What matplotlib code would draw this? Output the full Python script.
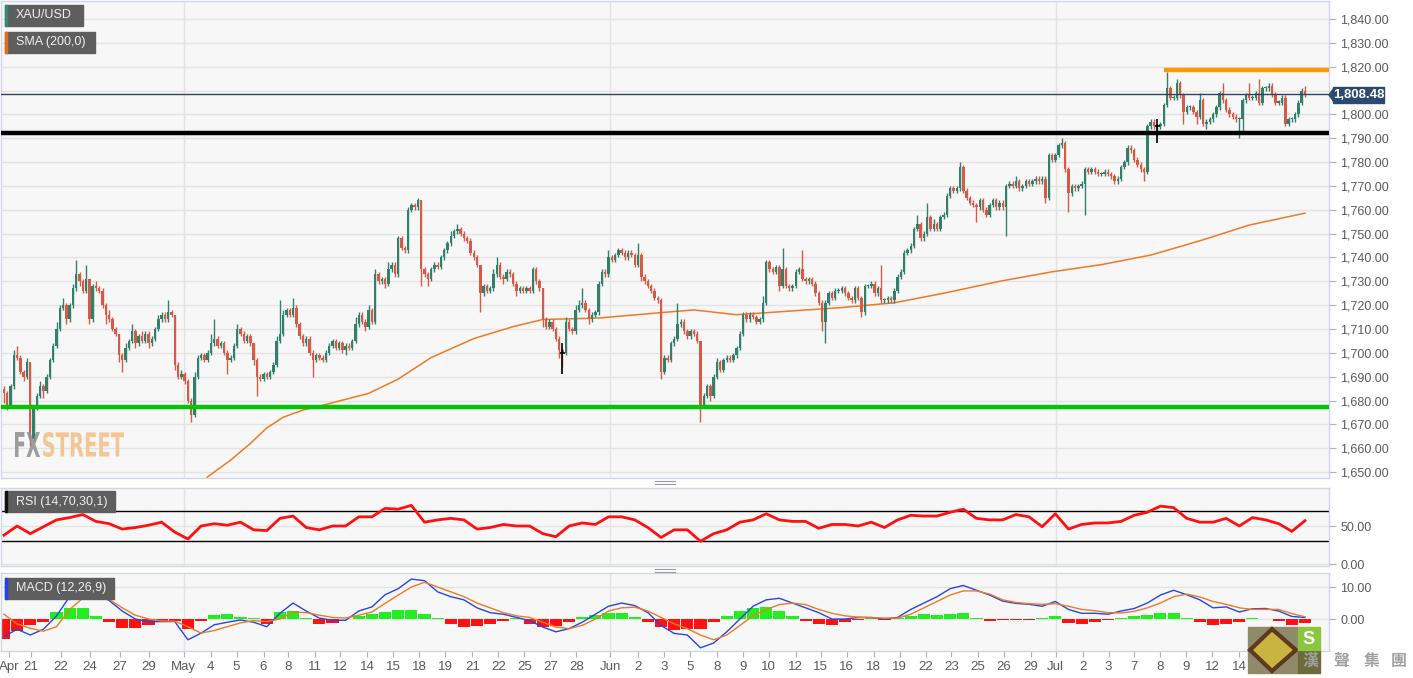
import numpy as np
import matplotlib
matplotlib.use("Agg")
import matplotlib.pyplot as plt
from matplotlib.patches import Rectangle, Polygon, PathPatch
from matplotlib.textpath import TextPath
from matplotlib.font_manager import FontProperties
from matplotlib.transforms import Affine2D, IdentityTransform

plt.rcParams["font.family"] = ["Liberation Sans", "DejaVu Sans"]

# ---- price data (4h candles) ----
first_open = 1685
closes = [
    1683, 1678, 1686, 1699, 1698, 1692, 1690, 1696, 1664, 1677, 1682, 1686, 1684, 1690, 1697, 1703, 1710, 1719, 1720, 1714,
    1720, 1727, 1733, 1730, 1726, 1731, 1714, 1728, 1727, 1726, 1720, 1716, 1714, 1710, 1708, 1699, 1697, 1702, 1705, 1709,
    1704, 1707, 1705, 1708, 1704, 1706, 1710, 1714, 1716, 1714, 1717, 1716, 1695, 1690, 1691, 1688, 1680, 1674, 1690, 1698,
    1699, 1697, 1700, 1704, 1706, 1703, 1704, 1700, 1697, 1698, 1703, 1710, 1708, 1705, 1707, 1704, 1697, 1690, 1689, 1691,
    1690, 1692, 1695, 1705, 1708, 1716, 1718, 1716, 1719, 1712, 1707, 1704, 1706, 1700, 1697, 1699, 1698, 1697, 1700, 1703,
    1705, 1702, 1704, 1701, 1703, 1702, 1705, 1712, 1716, 1713, 1711, 1718, 1713, 1733, 1730, 1731, 1729, 1735, 1737, 1733,
    1748, 1744, 1743, 1760, 1762, 1761, 1764, 1735, 1733, 1731, 1735, 1737, 1736, 1740, 1743, 1746, 1749, 1751, 1752, 1750,
    1748, 1747, 1742, 1740, 1737, 1725, 1728, 1726, 1727, 1733, 1737, 1732, 1731, 1734, 1733, 1729, 1726, 1727, 1726, 1727,
    1726, 1735, 1730, 1727, 1714, 1711, 1713, 1710, 1706, 1701, 1700, 1713, 1710, 1709, 1718, 1720, 1721, 1718, 1714, 1716,
    1717, 1729, 1734, 1733, 1740, 1739, 1741, 1743, 1742, 1740, 1742, 1741, 1737, 1741, 1732, 1730, 1728, 1726, 1723, 1722,
    1692, 1698, 1697, 1704, 1706, 1712, 1713, 1709, 1707, 1709, 1708, 1705, 1678, 1682, 1686, 1682, 1690, 1696, 1693, 1697,
    1698, 1697, 1699, 1702, 1708, 1716, 1714, 1716, 1715, 1713, 1714, 1721, 1738, 1735, 1734, 1736, 1728, 1735, 1728, 1727,
    1728, 1734, 1735, 1731, 1730, 1731, 1729, 1725, 1721, 1713, 1721, 1725, 1723, 1726, 1726, 1727, 1725, 1723, 1722, 1727,
    1723, 1717, 1728, 1728, 1729, 1725, 1727, 1722, 1722, 1723, 1722, 1726, 1732, 1734, 1742, 1743, 1745, 1752, 1754, 1748,
    1750, 1757, 1752, 1754, 1752, 1757, 1758, 1766, 1769, 1768, 1769, 1778, 1768, 1765, 1763, 1762, 1761, 1764, 1760, 1758,
    1762, 1764, 1761, 1763, 1761, 1770, 1771, 1770, 1772, 1769, 1770, 1772, 1771, 1772, 1773, 1772, 1773, 1765, 1783, 1781,
    1783, 1787, 1788, 1777, 1767, 1770, 1769, 1770, 1771, 1777, 1776, 1777, 1776, 1775, 1775, 1776, 1775, 1774, 1772, 1773,
    1778, 1780, 1786, 1785, 1781, 1779, 1777, 1776, 1795, 1797, 1795, 1795, 1796, 1804, 1811, 1807, 1807, 1813, 1808, 1801,
    1803, 1803, 1801, 1799, 1806, 1796, 1797, 1798, 1800, 1803, 1809, 1806, 1802, 1800, 1799, 1798, 1798, 1806, 1808, 1807,
    1807, 1809, 1805, 1811, 1811, 1812, 1808.5, 1805, 1805, 1807, 1796, 1798, 1798, 1800, 1805, 1810, 1808.5,
]
up_wick = [
    1, 1, 1, 2, 4, 1, 1, 2, 0, 1, 1, 2, 1, 1, 1, 1, 3, 1, 3, 1,
    1, 2, 6, 1, 1, 6, 0, 1, 2, 1, 1, 1, 2, 1, 1, 0, 1, 2, 1, 3,
    1, 1, 2, 1, 1, 1, 1, 2, 1, 1, 5, 1, 0, 1, 2, 1, 1, 1, 2, 1,
    1, 1, 1, 4, 8, 1, 1, 1, 1, 1, 1, 2, 1, 1, 1, 1, 0, 1, 1, 1,
    1, 1, 1, 2, 14, 2, 1, 1, 4, 1, 1, 1, 1, 1, 1, 1, 1, 1, 1, 1,
    1, 1, 1, 1, 1, 1, 1, 3, 1, 1, 1, 2, 1, 2, 1, 1, 1, 3, 1, 1,
    1, 1, 1, 1, 1, 1, 1, 0, 1, 1, 1, 1, 1, 1, 1, 1, 2, 1, 2, 1,
    1, 1, 1, 1, 1, 0, 1, 1, 1, 2, 3, 1, 1, 1, 1, 1, 1, 1, 1, 1,
    1, 1, 1, 1, 0, 1, 1, 1, 1, 1, 1, 2, 1, 1, 2, 2, 6, 1, 1, 1,
    1, 1, 1, 1, 3, 1, 1, 1, 1, 1, 1, 1, 1, 5, 1, 1, 1, 1, 1, 1,
    1, 1, 1, 1, 1, 9, 1, 1, 1, 1, 1, 1, 0, 1, 1, 1, 1, 2, 1, 1,
    1, 1, 1, 1, 1, 1, 1, 1, 1, 1, 1, 3, 1, 1, 1, 1, 1, 9, 1, 1,
    1, 1, 1, 8, 1, 1, 1, 1, 1, 1, 1, 1, 1, 1, 1, 1, 1, 1, 1, 1,
    1, 1, 1, 1, 1, 1, 1, 10, 1, 1, 1, 1, 1, 1, 1, 1, 1, 1, 4, 1,
    1, 6, 1, 2, 1, 1, 1, 1, 1, 1, 1, 2, 1, 1, 1, 1, 1, 1, 1, 1,
    1, 1, 1, 1, 1, 1, 1, 1, 2, 1, 1, 1, 1, 1, 1, 1, 1, 1, 1, 1,
    1, 1, 2, 1, 1, 1, 1, 1, 1, 1, 1, 1, 1, 1, 1, 1, 1, 1, 1, 1,
    1, 1, 1, 1, 1, 1, 1, 1, 1, 1, 1, 1, 1, 1, 7, 1, 1, 2, 1, 1,
    1, 1, 1, 1, 3, 1, 1, 1, 1, 1, 1, 4, 1, 1, 1, 1, 1, 1, 1, 5,
    1, 1, 6, 1, 1, 1, 1, 1, 1, 1, 1, 1, 1, 1, 1, 1, 2,
]
dn_wick = [
    4, 2, 1, 1, 1, 1, 2, 1, 3, 1, 1, 1, 3, 1, 1, 1, 1, 1, 1, 2,
    1, 1, 1, 2, 1, 1, 2, 1, 1, 1, 1, 4, 1, 1, 1, 3, 5, 1, 1, 1,
    2, 1, 1, 1, 2, 1, 1, 1, 1, 1, 1, 1, 2, 1, 1, 1, 1, 3, 1, 1,
    1, 1, 1, 1, 1, 1, 1, 1, 6, 1, 1, 1, 1, 1, 1, 1, 2, 8, 1, 1,
    1, 1, 1, 1, 1, 1, 1, 1, 1, 1, 1, 1, 1, 1, 7, 1, 1, 1, 1, 1,
    1, 1, 1, 1, 2, 1, 1, 1, 1, 1, 2, 1, 1, 1, 1, 1, 2, 1, 1, 1,
    1, 1, 1, 1, 1, 1, 1, 7, 1, 3, 1, 1, 1, 1, 1, 1, 1, 1, 1, 1,
    1, 1, 1, 1, 1, 8, 1, 1, 1, 1, 1, 1, 2, 1, 1, 1, 2, 1, 1, 1,
    1, 1, 1, 1, 3, 1, 1, 1, 1, 3, 6, 1, 1, 1, 1, 1, 1, 1, 2, 1,
    1, 1, 1, 1, 1, 1, 1, 1, 1, 1, 1, 1, 1, 1, 2, 1, 1, 1, 1, 1,
    3, 1, 1, 1, 1, 1, 1, 1, 1, 1, 1, 1, 7, 1, 1, 2, 1, 1, 1, 1,
    1, 1, 1, 1, 1, 1, 1, 1, 1, 1, 1, 1, 1, 1, 1, 1, 2, 1, 1, 1,
    1, 1, 1, 1, 1, 1, 1, 1, 1, 4, 9, 1, 1, 1, 1, 1, 1, 1, 1, 1,
    1, 2, 1, 1, 1, 1, 1, 1, 1, 1, 1, 1, 1, 1, 1, 1, 1, 1, 1, 1,
    1, 1, 1, 1, 1, 1, 1, 1, 1, 1, 1, 1, 1, 1, 1, 1, 6, 1, 1, 1,
    1, 1, 1, 1, 1, 12, 1, 1, 1, 1, 1, 1, 1, 1, 1, 1, 1, 2, 1, 1,
    1, 1, 1, 1, 8, 1, 1, 1, 1, 13, 1, 1, 1, 1, 1, 1, 1, 1, 1, 1,
    1, 1, 1, 1, 1, 1, 1, 4, 1, 1, 1, 4, 1, 1, 1, 1, 1, 1, 1, 5,
    1, 1, 1, 3, 1, 1, 2, 1, 1, 1, 1, 1, 1, 1, 1, 1, 8, 5, 1, 1,
    1, 1, 1, 1, 1, 1, 1, 1, 1, 1, 1, 1, 1, 1, 1, 1, 1,
]
cursor_marks = [170, 351]

# SMA(200) readings (candle index, value)
sma_idx = [60, 62, 69, 75, 80, 85, 91, 97, 111, 120, 130, 143, 155, 164, 181, 201, 210, 223,
           239, 255, 271, 286, 303, 319, 334, 349, 364, 379, 396]
sma_val = [1643, 1648, 1655, 1662, 1668.5, 1673, 1676, 1678, 1683, 1689, 1698, 1706, 1711, 1714,
           1714.6, 1717, 1718, 1716, 1717.5, 1719, 1721, 1725, 1730, 1734, 1737, 1741, 1747, 1753.6, 1758.6]

# levels
support_green = 1677.4
support_black = 1792.2
resist_orange = 1818.5
resist_start = 353
last_price = 1808.48

# indicators, one reading every 4 candles
ind_step = 4
rsi = [38, 50, 40, 49, 58, 61, 65, 56, 53, 46,
       48, 51, 55, 42, 33, 50, 53, 51, 55, 45,
       44, 60, 63, 48, 45, 50, 50, 62, 62, 73,
       72, 77, 55, 58, 60, 58, 46, 48, 52, 50,
       50, 40, 36, 50, 54, 52, 62, 62, 58, 48,
       35, 45, 45, 30, 40, 45, 55, 58, 66, 58,
       56, 56, 47, 52, 52, 50, 55, 48, 58, 64,
       63, 63, 68, 72, 60, 58, 58, 65, 62, 49,
       66, 46, 52, 54, 54, 56, 64, 68, 76, 74,
       60, 55, 55, 60, 50, 61, 58, 53, 43, 57]
macd = [-5.5, -3.2, -5, -3.2, 1, 7, 8.6, 8.2, 5.8, 2.5,
        0, -0.8, -0.8, -0.8, -6.5, -4.4, -1.8, -1, -0.3, -1,
        -2.4, 1.8, 5, 2.5, 0.3, -0.4, -0.4, 2.5, 3.8, 7.6,
        9.5, 12.5, 12, 8.5, 7, 6, 3.5, 2, 1.5, 0.5,
        -0.5, -2.5, -4, -3, -1, 1.5, 4, 5, 4.2, 2,
        -2, -4.5, -5, -9, -7.5, -4, 0, 4, 6, 6.5,
        5, 3.5, 2, 0, 0, 0.5, 0.5, 0, 0.5, 3,
        5, 7, 9.5, 10.5, 9, 7.5, 5.6, 4.9, 4.6, 4,
        5.5, 3, 1.8, 1.8, 1.5, 2.5, 3.3, 5, 7.5, 9,
        7.6, 6, 3.5, 3.8, 2.2, 3.2, 3.3, 2.5, 0.8, 0.5]
signal = [1.5, -1.5, -2.9, -3.8, -2.4, 3, 6.5, 7.5, 6.2, 3.5,
          1.2, 0, -0.6, -0.7, -2.4, -4.4, -3.6, -2.4, -1.2, -0.5,
          -0.8, 0, 2.2, 2, 1.2, 0.5, 0.3, 1.2, 2.2, 4.9,
          7.5, 10, 11.5, 10, 8.5, 7, 5, 3.5, 2, 1,
          0.5, -1, -2.5, -3, -2, 0, 2.5, 3.5, 3.7, 2.5,
          0.5, -1.5, -3, -5, -6.5, -5, -2, 1, 3, 4.5,
          5, 4.5, 3, 1.8, 1, 0.6, 0.4, 0.3, 0.3, 1.5,
          3.5, 5.5, 7.5, 8.8, 8.8, 7.8, 6, 5.2, 4.8, 4.6,
          4.8, 4, 3, 2.6, 2, 1.9, 2.4, 3.5, 5, 7,
          7.8, 6.9, 5.5, 4.6, 3.5, 3, 3, 3, 1.7, 0.7]
hist = [-6.2, -3.6, -1.8, -0.8, 2.2, 3.6, 3.3, 0.8, -0.8, -2.8,
        -2.7, -1.8, -0.5, -0.5, -3.1, -0.5, 1.3, 1.6, 0.7, 0.3,
        -1.6, 2.2, 2.4, 0.3, -1.4, -1.2, 0, 0.8, 1.6, 2.2,
        2.7, 2.8, 1.5, 0.3, -1.5, -2.5, -2.3, -1.5, -0.5, 0.3,
        -1.5, -2.5, -2.2, -0.8, 0.5, 1.2, 2, 1.8, 0.5, -1,
        -2.5, -3.5, -3, -3.2, -1, 1, 2.5, 3.5, 3.8, 2.5,
        1, -0.5, -1.5, -1.8, -1, -0.3, 0.3, -0.3, 0.3, 1,
        1.5, 1.2, 1.5, 1.8, 0.3, -0.5, -0.4, -0.3, -0.3, 0.2,
        0.9, -1.3, -1.5, -0.8, -0.3, 0.3, 0.8, 1.3, 2, 1.8,
        0.2, -1, -1.8, -1.5, -0.8, 0.2, 0.1, -0.5, -1.8, -1.2]

# date axis
tick_pos = [1.5, 8.2, 17.3, 26.1, 35.3, 44.1, 54.7, 62.9, 70.8, 79, 86.6, 94.8, 102.4, 110.6, 118.5,
            126.4, 134.3, 142.6, 150.5, 158.4, 166.3, 174.2, 184.5, 193, 200.9, 208.8, 217, 224.9,
            232.8, 241, 248.6, 256.5, 264.7, 272.6, 280.5, 288.4, 296.4, 304.3, 312.5, 320.1, 328.3,
            336.2, 344.1, 352, 359.9, 367.8, 376]
tick_lab = ["Apr", "21", "22", "24", "27", "29", "May", "4", "5", "6", "8", "11", "12", "14", "15",
            "18", "19", "21", "22", "25", "27", "28", "Jun", "2", "3", "5", "8", "9", "10", "12",
            "15", "16", "18", "19", "22", "23", "25", "26", "29", "Jul", "2", "3", "7", "8", "9",
            "12", "14"]
month_pos = [54.7, 184.5, 320.1]

W, H = 1413, 678
fig = plt.figure(figsize=(W / 100, H / 100), dpi=100)
fig.patch.set_facecolor("white")

def px_axes(x0, y0, x1, y1):
    return fig.add_axes([x0 / W, 1 - y1 / H, (x1 - x0) / W, (y1 - y0) / H])

ax = px_axes(1, 1, 1329, 478)
ax_r = px_axes(1, 488, 1329, 566)
ax_m = px_axes(1, 573, 1329, 651)

xlim = (-0.9, 403.3)
txt_col = "#5a5a5a"
for a in (ax, ax_r, ax_m):
    a.set_facecolor("#f7f7f7")
    a.set_xlim(*xlim)
    for s in a.spines.values():
        s.set_color("#cfd6e6")
        s.set_linewidth(1)
    a.yaxis.tick_right()
    a.tick_params(axis="y", colors="#b0b0b0", labelcolor=txt_col, labelsize=9, length=5, pad=3)
    a.grid(axis="y", color="#e3e3e3", lw=1)
    for m in month_pos:
        a.axvline(m, color="#e3e3e3", lw=1, zorder=0)
    a.set_axisbelow(True)
    a.set_xticks([])

# ---- main price panel ----
c = np.array(closes, dtype=float)
o = np.r_[first_open, c[:-1]]
x = np.arange(len(c))
hi = np.maximum(o, c) + np.array(up_wick)
lo = np.minimum(o, c) - np.array(dn_wick)
green, red = "#31806c", "#d65a45"
cols = np.where(c >= o, green, red)
ax.vlines(x, lo, hi, colors=cols, lw=1, zorder=3)
ax.bar(x, np.maximum(np.abs(c - o), 0.5), bottom=np.minimum(o, c), width=0.75,
       color=cols, lw=0, zorder=3)
for k in cursor_marks:
    ax.vlines(k, lo[k] - 3, hi[k] + 2, colors="black", lw=1.2, zorder=4)
    ax.hlines(c[k], k - 0.8, k + 0.8, colors="black", lw=1.2, zorder=4)

ax.plot(sma_idx, sma_val, color="#f07a24", lw=1.1, zorder=2)
ax.axhline(support_green, color="#00c800", lw=3.2, zorder=5)
ax.axhline(support_black, color="black", lw=3.2, zorder=5)
ax.hlines(resist_orange, resist_start, xlim[1], color="#ff9800", lw=3.2, zorder=5)
ax.axhline(last_price, color="#2c4263", lw=1, zorder=5)

ax.set_ylim(1647.5, 1847.6)
yt = np.arange(1650, 1841, 10)
ax.set_yticks(yt)
# the 1,810 label sits under the last-price box in the original
ax.set_yticklabels(["" if v == 1810 else f"{v:,.2f}" for v in yt])

# ---- RSI ----
gx = np.arange(len(rsi)) * ind_step
ax_r.plot(gx, rsi, color="#ff1010", lw=2, zorder=3)
ax_r.axhline(70, color="black", lw=1, zorder=2)
ax_r.axhline(30, color="black", lw=1, zorder=2)
ax_r.set_ylim(-2.3, 99.7)
ax_r.set_yticks([0, 50])
ax_r.set_yticklabels(["0.00", "50.00"])

# ---- MACD ----
gm = np.arange(len(macd)) * ind_step
hcol = np.where(np.array(hist) >= 0, "#22ee22", "#ff1111")
ax_m.bar(gm, hist, width=ind_step * 0.92, color=hcol, lw=0, zorder=2)
ax_m.plot(gm, macd, color="#2346e8", lw=1, zorder=3)
ax_m.plot(gm, signal, color="#f07a24", lw=1, zorder=3)
ax_m.set_ylim(-10, 14.4)
ax_m.set_yticks([0, 10])
ax_m.set_yticklabels(["0.00", "10.00"])
ax_m.set_xticks(tick_pos)
ax_m.set_xticklabels(tick_lab)
ax_m.tick_params(axis="x", colors="#b0b0b0", labelcolor=txt_col, labelsize=9.5, length=4, pad=3)

# ---- overlay tags ----
def tag(x0, y0, w, h, text, stripe):
    fig.add_artist(Rectangle((x0 / W, 1 - (y0 + h) / H), w / W, h / H,
                             transform=fig.transFigure, color="#5e5e5e", zorder=20))
    fig.add_artist(Rectangle((x0 / W, 1 - (y0 + h) / H), 2 / W, h / H,
                             transform=fig.transFigure, color=stripe, zorder=21))
    fig.text((x0 + 11) / W, 1 - (y0 + h / 2) / H, text, color="#f0f0f0", fontsize=9,
             va="center", ha="left", zorder=22)

tag(5, 5, 78, 21, "XAU/USD", "#2e8b74")
tag(5, 32, 90, 21, "SMA (200,0)", "#ee6a10")
tag(5, 491, 110, 21, "RSI (14,70,30,1)", "#111111")
tag(5, 578, 109, 21, "MACD (12,26,9)", "#2040ff")

# last price box
fig.add_artist(Polygon([[1329 / W, 1 - 95 / H], [1334 / W, 1 - 88 / H], [1334 / W, 1 - 102 / H]],
                       closed=True, transform=fig.transFigure, color="#2c4a70", zorder=20))
fig.add_artist(Rectangle((1333 / W, 1 - 103 / H), 51 / W, 16 / H, transform=fig.transFigure,
                         color="#2c4a70", zorder=20))
fig.text(1358.5 / W, 1 - 95.5 / H, f"{last_price:,.2f}", color="white", fontsize=9.5,
         fontweight="bold", ha="center", va="center", zorder=21)

# panel handles
for yy in (482, 570):
    for dy in (-1.5, 1.5):
        fig.add_artist(plt.Line2D([655 / W, 675 / W], [1 - (yy + dy) / H] * 2,
                                  transform=fig.transFigure, color="#9a9a9a", lw=0.8))

# watermark, stretched to the narrow look of the original
def stretched_text(s, x0, x1, ytop, ybot, color, alpha):
    tp = TextPath((0, 0), s, size=10, prop=FontProperties(family="DejaVu Sans", weight="bold"))
    ext = tp.get_extents()
    sx = (x1 - x0) / ext.width
    sy = (ybot - ytop) / ext.height
    tr = Affine2D().translate(-ext.x0, -ext.y0).scale(sx, sy).translate(x0, H - ybot)
    fig.add_artist(PathPatch(tr.transform_path(tp), transform=IdentityTransform(),
                             color=color, alpha=alpha, lw=0, zorder=15))

stretched_text("FX", 15, 40, 432, 457, "#8d8d8d", 0.85)
stretched_text("STREET", 43, 124, 432, 457, "#f3c28a", 0.9)

# corner logo
fig.add_artist(Rectangle((1248 / W, 5 / H), 50 / W, 46 / H, transform=fig.transFigure,
                         color="#8f8a6a", zorder=25))
fig.add_artist(Rectangle((1298 / W, 5 / H), 22 / W, 23 / H, transform=fig.transFigure,
                         color="#6f6a3c", zorder=25))
fig.add_artist(Polygon([[1272 / W, 49 / H], [1296 / W, 28 / H], [1272 / W, 7 / H], [1250 / W, 28 / H]],
                       closed=True, transform=fig.transFigure, color="#c9b440", ec="#5b3a20",
                       lw=3, zorder=26))
fig.add_artist(Rectangle((1298 / W, 28 / H), 22 / W, 23 / H, transform=fig.transFigure,
                         color="#8cc63f", zorder=26))
fig.text(1309 / W, 39 / H, "S", color="white", fontsize=13, fontweight="bold",
         ha="center", va="center", zorder=27)
for xx, ch in zip([1310, 1341, 1372, 1399], "漢聲集團"):
    fig.text(xx / W, 1 - 661 / H, ch, color="#a0a0a0", fontsize=11.5,
             fontweight="bold", family=["Noto Sans CJK TC", "DejaVu Sans"],
             ha="center", va="center", zorder=30)

fig.savefig("out.png", dpi=100)
